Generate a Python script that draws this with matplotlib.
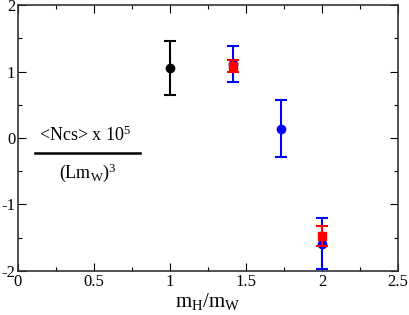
import matplotlib
matplotlib.use("Agg")
import matplotlib.pyplot as plt
from matplotlib.lines import Line2D

plt.rcParams['font.family'] = ['Liberation Serif', 'DejaVu Serif']
plt.rcParams['mathtext.fontset'] = 'custom'
plt.rcParams['mathtext.rm'] = 'Liberation Serif'
plt.rcParams['mathtext.it'] = 'Liberation Serif'

# black series
black_x = [1.0]
black_y = [1.05]
black_err = [0.41]

# blue series
blue_x = [1.414, 1.732, 2.0]
blue_y = [1.11, 0.14, -1.59]
blue_err = [0.27, 0.43, 0.38]

# red series
red_x = [1.414, 2.0]
red_y = [1.08, -1.48]
red_err = [0.09, 0.15]

fig = plt.figure(figsize=(4.09, 3.15), dpi=100)
ax = fig.add_axes([0.044, 0.140, 0.929, 0.844])

ax.errorbar(black_x, black_y, yerr=black_err, fmt='o', color='black',
            ms=6, elinewidth=1.5, capsize=4, capthick=1.5, zorder=3)
ax.errorbar(blue_x, blue_y, yerr=blue_err, fmt='o', color='#0000ff',
            ms=6, elinewidth=1.5, capsize=4, capthick=1.5, zorder=3)
ax.errorbar(red_x, red_y, yerr=red_err, fmt='s', color='#ff0000',
            ms=5.5, elinewidth=1.5, capsize=4, capthick=1.5, zorder=4)

ax.set_xlim(0, 2.5)
ax.set_ylim(-2, 2)
ax.set_xticks([0, 0.5, 1, 1.5, 2, 2.5])
ax.set_xticklabels(['0', '0.5', '1', '1.5', '2', '2.5'])
ax.set_xticks([0.25, 0.75, 1.25, 1.75, 2.25], minor=True)
ax.set_yticks([-2, -1, 0, 1, 2])
ax.set_yticklabels(['-2', '-1', '0', '1', '2'])
ax.set_yticks([-1.5, -0.5, 0.5, 1.5], minor=True)
ax.tick_params(which='both', direction='in', top=True, right=True,
               labelsize=12, width=0.8, pad=2)
ax.tick_params(which='major', length=6)
ax.tick_params(which='minor', length=3)
for s in ax.spines.values():
    s.set_linewidth(1.2)
    s.set_color('#333333')

ax.set_xlabel(r'm$_\mathregular{H}$/m$_\mathregular{W}$', fontsize=15, labelpad=1)

# fraction label
fig.text(85 / 409, 1 - 135 / 315, r'<Ncs> x 10$^\mathregular{5}$', fontsize=13,
         ha='center', va='center')
fig.add_artist(Line2D([35 / 409, 140 / 409], [1 - 153 / 315, 1 - 153 / 315],
                      color='black', lw=1.8))
fig.text(88 / 409, 1 - 173 / 315, r'(Lm$_\mathregular{W}$)$^\mathregular{3}$', fontsize=13,
         ha='center', va='center')

fig.savefig('out.png', dpi=100)
